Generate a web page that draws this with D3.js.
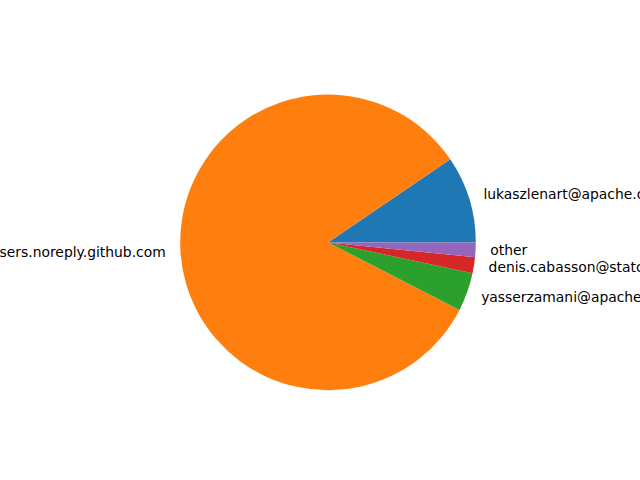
<!DOCTYPE html>
<html>
<head>
<meta charset="utf-8">
<script src="https://cdn.jsdelivr.net/npm/d3@7"></script>
<style>
  body { margin: 0; background: #fff; }
  svg { display: block; }
</style>
</head>
<body>
<div id="chart"></div>
<script>
// contributors and their share of commits
var labels = [
    "lukaszlenart@apache.org",
    "49699333+dependabot[bot]@users.noreply.github.com",
    "yasserzamani@apache.org",
    "denis.cabasson@statcan.gc.ca",
    "other"
];
var values = [9.5, 83.0, 4.2, 1.75, 1.6];
var colors = ["#1f77b4", "#ff7f0e", "#2ca02c", "#d62728", "#9467bd"];

var width = 640, height = 480;
var cx = 328, cy = 242.4;
var radius = 147.8;

var svg = d3.select("#chart").append("svg")
    .attr("width", width)
    .attr("height", height);

var g = svg.append("g").attr("transform", "translate(" + cx + "," + cy + ")");

// matplotlib starts at 3 o'clock and goes counterclockwise
var pie = d3.pie()
    .sort(null)
    .startAngle(Math.PI / 2)
    .endAngle(Math.PI / 2 - 2 * Math.PI);

var arcs = pie(values);

var arc = d3.arc().innerRadius(0).outerRadius(radius);

g.selectAll("path.slice")
    .data(arcs)
    .enter().append("path")
    .attr("class", "slice")
    .attr("d", arc)
    .attr("fill", function (d, i) { return colors[i]; });

// labels at 1.1 * radius, left/right aligned
g.selectAll("text.label")
    .data(arcs)
    .enter().append("text")
    .attr("class", "label")
    .each(function (d, i) {
        var a = (d.startAngle + d.endAngle) / 2;
        var x = Math.sin(a) * radius * 1.1;
        var y = -Math.cos(a) * radius * 1.1;
        d3.select(this)
            .attr("x", x)
            .attr("y", y)
            .attr("dy", "0.35em")
            .attr("text-anchor", x > 0 ? "start" : "end")
            .text(labels[i]);
    })
    .style("font-family", "DejaVu Sans")
    .style("font-size", "13.89px")
    .style("fill", "#000");
</script>
</body>
</html>
